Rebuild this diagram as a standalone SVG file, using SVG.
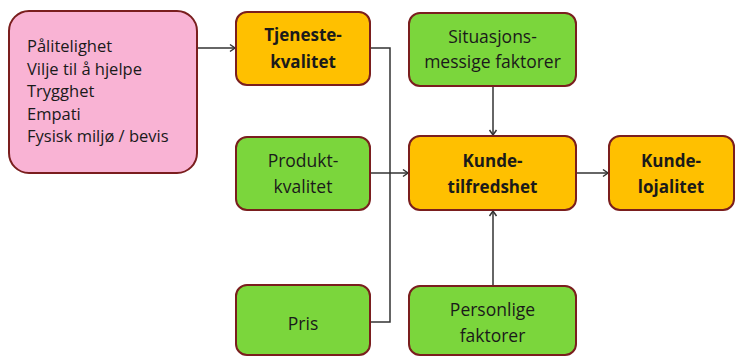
<svg xmlns="http://www.w3.org/2000/svg" width="735" height="356" viewBox="0 0 735 356">
<style>
.box{stroke:#7a1e1e;stroke-width:2}
.pink{fill:#f9b3d4}
.orange{fill:#ffc000}
.green{fill:#7bd63c}
text{font-family:"Open Sans","Liberation Sans",sans-serif;fill:#1a1a1a}
.t{font-size:16.5px}
.b{font-size:17px;font-weight:bold;text-anchor:middle}
.n{font-size:17.5px;text-anchor:middle}
.c{fill:none;stroke:#333;stroke-width:1.5}
</style>
<defs>
<marker id="arr" markerWidth="10" markerHeight="10" refX="8" refY="5" orient="auto" markerUnits="userSpaceOnUse">
<polyline points="3,1.5 8,5 3,8.5" fill="none" stroke="#333" stroke-width="1.5"/>
</marker>
</defs>
<rect width="735" height="356" fill="#ffffff"/>
<g id="connectors">
<line class="c" x1="197" y1="48" x2="235" y2="48" marker-end="url(#arr)"/>
<polyline class="c" points="370,48 390,48 390,322 370,322"/>
<line class="c" x1="370" y1="173" x2="408" y2="173" marker-end="url(#arr)"/>
<line class="c" x1="493" y1="86" x2="493" y2="135" marker-end="url(#arr)"/>
<line class="c" x1="493" y1="285" x2="493" y2="211" marker-end="url(#arr)"/>
<line class="c" x1="576" y1="173" x2="608" y2="173" marker-end="url(#arr)"/>
</g>
<g id="dimensjoner">
<rect class="box pink" x="9" y="11" width="188" height="162" rx="20"/>
<text class="t" x="27" y="52">Pålitelighet</text>
<text class="t" x="27" y="75">Vilje til å hjelpe</text>
<text class="t" x="27" y="97">Trygghet</text>
<text class="t" x="27" y="120">Empati</text>
<text class="t" x="27" y="142">Fysisk miljø / bevis</text>
</g>
<g id="tjenestekvalitet">
<rect class="box orange" x="236" y="12" width="134" height="73" rx="11"/>
<text class="b" x="303" y="41">Tjeneste-</text>
<text class="b" x="303" y="68">kvalitet</text>
</g>
<g id="produktkvalitet">
<rect class="box green" x="236" y="137" width="134" height="73" rx="11"/>
<text class="n" x="303" y="167">Produkt-</text>
<text class="n" x="303" y="193">kvalitet</text>
</g>
<g id="pris">
<rect class="box green" x="236" y="285" width="134" height="70" rx="11"/>
<text class="n" x="303" y="330">Pris</text>
</g>
<g id="situasjon">
<rect class="box green" x="409" y="13" width="167" height="73" rx="11"/>
<text class="n" x="492.5" y="43">Situasjons-</text>
<text class="n" x="492.5" y="68">messige faktorer</text>
</g>
<g id="kundetilfredshet">
<rect class="box orange" x="409" y="136" width="167" height="74" rx="11"/>
<text class="b" x="492.5" y="167">Kunde-</text>
<text class="b" x="492.5" y="193">tilfredshet</text>
</g>
<g id="kundelojalitet">
<rect class="box orange" x="609" y="136" width="125" height="74" rx="11"/>
<text class="b" x="671" y="167">Kunde-</text>
<text class="b" x="671" y="193">lojalitet</text>
</g>
<g id="personlige">
<rect class="box green" x="409" y="286" width="167" height="69" rx="11"/>
<text class="n" x="492.5" y="316">Personlige</text>
<text class="n" x="492.5" y="342">faktorer</text>
</g>
</svg>
